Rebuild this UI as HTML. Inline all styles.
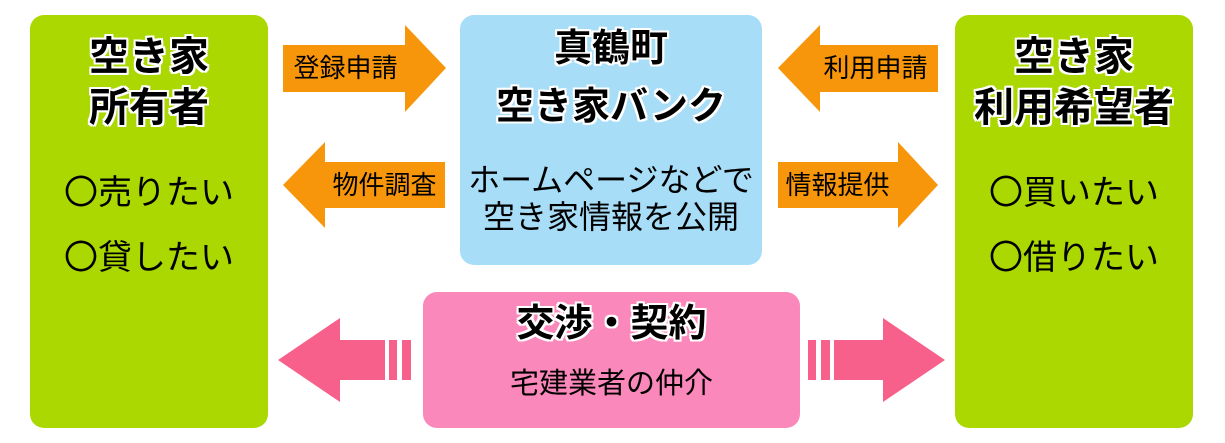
<!DOCTYPE html>
<html><head><meta charset="utf-8"><style>
body{margin:0;width:1225px;height:443px;background:#fff;position:relative;overflow:hidden;font-family:"Liberation Sans","Noto Sans CJK JP",sans-serif;}
.b{position:absolute;border-radius:14px;}
.t{position:absolute;white-space:nowrap;text-align:center;color:#000;line-height:1;}
.h{font-weight:bold;text-shadow:2px 0 #fff,-2px 0 #fff,0 2px #fff,0 -2px #fff,2px 2px #fff,-2px -2px #fff,2px -2px #fff,-2px 2px #fff;}
</style></head><body>
<div class="b" style="left:30px;top:15px;width:238px;height:413px;background:#aad800"></div>
<div class="b" style="left:955px;top:15px;width:238px;height:413px;background:#aad800"></div>
<div class="b" style="left:460px;top:15px;width:302px;height:250px;background:#a8ddf8"></div>
<div class="b" style="left:423px;top:292px;width:377px;height:136px;background:#fb88bb"></div>
<svg style="position:absolute;left:0;top:0" width="1225" height="443">
<g fill="#f7960b">
<polygon points="283,45 405,45 405,25 446,68 405,112 405,92 283,92"/>
<polygon points="445,162 325,162 325,142 283,185 325,228 325,208 445,208"/>
<polygon points="938,45 820,45 820,25 778,68 820,112 820,92 938,92"/>
<polygon points="778,162 898,162 898,142 938,185 898,228 898,208 778,208"/>
</g>
<g fill="#f7608a">
<polygon points="278,360 340,318 340,340 385,340 385,380 340,380 340,402"/>
<rect x="389" y="340" width="8" height="40"/><rect x="402" y="340" width="9" height="40"/>
<polygon points="945,360 883,318 883,340 834,340 834,380 883,380 883,402"/>
<rect x="808" y="340" width="8" height="40"/><rect x="821" y="340" width="9" height="40"/>
</g>
</svg>
<div class="t h" style="left:30px;width:238px;top:37px;font-size:40px">空き家</div>
<div class="t h" style="left:30px;width:238px;top:88px;font-size:40px">所有者</div>
<div class="t" style="left:30px;width:238px;top:176px;font-size:34px">〇売りたい</div>
<div class="t" style="left:30px;width:238px;top:241px;font-size:34px">〇貸したい</div>
<div class="t h" style="left:955px;width:238px;top:37px;font-size:40px">空き家</div>
<div class="t h" style="left:955px;width:238px;top:88px;font-size:40px">利用希望者</div>
<div class="t" style="left:955px;width:238px;top:176px;font-size:34px">〇買いたい</div>
<div class="t" style="left:955px;width:238px;top:241px;font-size:34px">〇借りたい</div>
<div class="t h" style="left:460px;width:302px;top:30px;font-size:38px">真鶴町</div>
<div class="t h" style="left:460px;width:302px;top:88px;font-size:38px">空き家バンク</div>
<div class="t" style="left:460px;width:302px;top:164px;font-size:32px">ホームページなどで</div>
<div class="t" style="left:460px;width:302px;top:201px;font-size:32px">空き家情報を公開</div>
<div class="t h" style="left:423px;width:377px;top:305px;font-size:38px">交渉・契約</div>
<div class="t" style="left:423px;width:377px;top:370px;font-size:29px">宅建業者の仲介</div>
<div class="t" style="left:288px;width:115px;top:55px;font-size:26px">登録申請</div>
<div class="t" style="left:327px;width:115px;top:172px;font-size:26px">物件調査</div>
<div class="t" style="left:818px;width:115px;top:55px;font-size:26px">利用申請</div>
<div class="t" style="left:780px;width:115px;top:172px;font-size:26px">情報提供</div>
</body></html>
